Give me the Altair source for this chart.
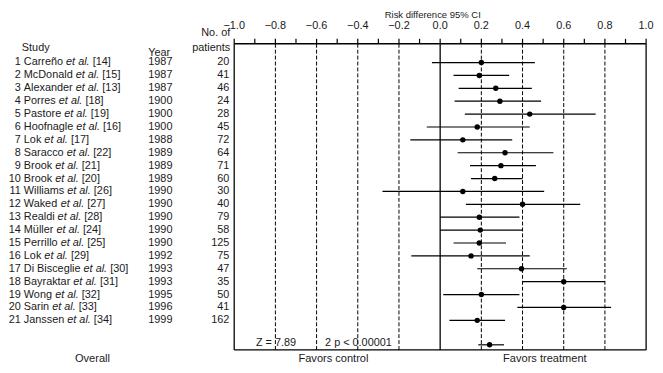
import altair as alt
import pandas as pd

# ---------------- data ----------------
study_num = list(range(1, 22))
authors = ["Carreño", "McDonald", "Alexander", "Porres", "Pastore", "Hoofnagle", "Lok",
           "Saracco", "Brook", "Brook", "Williams", "Waked", "Realdi", "Müller", "Perrillo",
           "Lok", "Di Bisceglie", "Bayraktar", "Wong", "Sarin", "Janssen"]
refs = ["[14]", "[15]", "[13]", "[18]", "[19]", "[16]", "[17]", "[22]", "[21]", "[20]", "[26]",
        "[27]", "[28]", "[24]", "[25]", "[29]", "[30]", "[31]", "[32]", "[33]", "[34]"]
years = [1987, 1987, 1987, 1900, 1900, 1900, 1988, 1989, 1989, 1989, 1990, 1990, 1990, 1990,
         1990, 1992, 1993, 1993, 1995, 1996, 1999]
patients = [20, 41, 46, 24, 28, 45, 72, 64, 71, 60, 30, 40, 79, 58, 125, 75, 47, 35, 50, 41, 162]
rd = [0.20, 0.19, 0.27, 0.29, 0.435, 0.18, 0.11, 0.315, 0.295, 0.265, 0.11, 0.40, 0.19, 0.195,
      0.19, 0.15, 0.395, 0.60, 0.20, 0.60, 0.18]
ci_lo = [-0.04, 0.065, 0.09, 0.07, 0.12, -0.065, -0.145, 0.085, 0.145, 0.15, -0.28, 0.125, 0.0,
         0.0, 0.065, -0.14, 0.18, 0.40, 0.015, 0.375, 0.045]
ci_hi = [0.46, 0.335, 0.445, 0.49, 0.755, 0.435, 0.35, 0.55, 0.465, 0.40, 0.505, 0.68, 0.385,
         0.40, 0.32, 0.435, 0.615, 0.80, 0.385, 0.83, 0.315]
overall_rd = [0.24]
overall_lo = [0.185]
overall_hi = [0.31]
overall_row = [22.9]

major_ticks = [-1.0, -0.8, -0.6, -0.4, -0.2, 0.0, 0.2, 0.4, 0.6, 0.8, 1.0]
minor_ticks = [-0.9, -0.7, -0.5, -0.3, -0.1, 0.1, 0.3, 0.5, 0.7, 0.9]
dashed_lines = [-0.8, -0.6, -0.4, -0.2, 0.2, 0.4, 0.6, 0.8]
solid_lines = [-1.0, 0.0, 1.0]
frame_rows = [-0.456, 23.3]

# ---------------- layout helpers ----------------
FONT = "Liberation Sans, Arial, Helvetica, sans-serif"
FS = 11
W, H = 417, 310
CW = {' ': 278, '.': 278, '[': 278, ']': 278, 'A': 667, 'B': 667, 'C': 722, 'D': 722, 'H': 722,
      'J': 500, 'L': 556, 'M': 833, 'P': 667, 'R': 722, 'S': 667, 'W': 944, 'c': 500, 'f': 278,
      'i': 222, 'j': 222, 'k': 500, 'l': 222, 'm': 833, 'r': 333, 's': 500, 't': 278, 'v': 500,
      'w': 722, 'x': 500, 'y': 500, 'z': 500}


def tw(s):
    return sum(CW.get(c, 556) for c in s) * FS / 1000.0


X = alt.Scale(domain=[-1, 1], nice=False, zero=False)
Y = alt.Scale(domain=frame_rows, reverse=True, nice=False, zero=False)
BLACK = "#000000"
TXT = "#1a1a1a"

name_x = -213
rows = pd.DataFrame({
    "row": study_num, "num": study_num, "author": authors, "ref": refs,
    "year": [str(y) for y in years], "n": patients, "rd": rd, "lo": ci_lo, "hi": ci_hi,
})
rows["etal_x"] = [name_x + tw(a + " ") for a in authors]
rows["ref_x"] = [name_x + tw(a + " et al. ") for a in authors]

ov = pd.DataFrame({"row": overall_row, "rd": overall_rd, "lo": overall_lo, "hi": overall_hi})

base_rows = alt.Chart(rows)
yrow = alt.Y("row:Q", scale=Y, axis=None)

# grid lines
dashed = alt.Chart(pd.DataFrame({"v": dashed_lines})).mark_rule(
    color=BLACK, strokeWidth=1, strokeDash=[4, 2]).encode(
    x=alt.X("v:Q", scale=X, axis=None), y=alt.value(0), y2=alt.value(H))
solid = alt.Chart(pd.DataFrame({"v": solid_lines})).mark_rule(
    color=BLACK, strokeWidth=1.3).encode(
    x=alt.X("v:Q", scale=X, axis=None), y=alt.value(0), y2=alt.value(H))
frame_h = alt.Chart(pd.DataFrame({"row": frame_rows})).mark_rule(
    color=BLACK, strokeWidth=1.3).encode(
    y=yrow, x=alt.value(0), x2=alt.value(W))
ticks = alt.Chart(pd.DataFrame({"v": major_ticks + minor_ticks})).mark_rule(
    color=BLACK, strokeWidth=1.2).encode(
    x=alt.X("v:Q", scale=X, axis=None), y=alt.value(-5), y2=alt.value(0))
tick_labels = alt.Chart(pd.DataFrame({"v": major_ticks})).mark_text(
    font=FONT, fontSize=FS, color=TXT, baseline="alphabetic", align="center").encode(
    x=alt.X("v:Q", scale=X, axis=None), y=alt.value(-14.5),
    text=alt.Text("v:Q", format=".1f"))
title = alt.Chart(pd.DataFrame({"t": ["Risk difference 95% CI"]})).mark_text(
    font=FONT, fontSize=9.6, color=TXT, baseline="alphabetic", align="center").encode(
    x=alt.value(201), y=alt.value(-26.5), text="t:N")

# estimates
ci = base_rows.mark_rule(color=BLACK, strokeWidth=1.2).encode(
    x=alt.X("lo:Q", scale=X, axis=None), x2="hi:Q", y=yrow)
pts = base_rows.mark_circle(color=BLACK, opacity=1, size=30).encode(
    x=alt.X("rd:Q", scale=X, axis=None), y=yrow)
ov_ci = alt.Chart(ov).mark_rule(color=BLACK, strokeWidth=1.2).encode(
    x=alt.X("lo:Q", scale=X, axis=None), x2="hi:Q", y=yrow)
ov_pt = alt.Chart(ov).mark_circle(color=BLACK, opacity=1, size=30).encode(
    x=alt.X("rd:Q", scale=X, axis=None), y=yrow)


def txt(**kw):
    d = dict(font=FONT, fontSize=FS, color=TXT, baseline="middle")
    d.update(kw)
    return d


# table
t_num = base_rows.mark_text(**txt(align="right")).encode(
    x=alt.value(-216), y=yrow, text="num:N")
t_author = base_rows.mark_text(**txt(align="left")).encode(
    x=alt.value(name_x), y=yrow, text="author:N")
t_etal = base_rows.mark_text(**txt(align="left", fontStyle="italic")).encode(
    x=alt.X("etal_x:Q", scale=None), y=yrow, text=alt.value("et al."))
t_ref = base_rows.mark_text(**txt(align="left")).encode(
    x=alt.X("ref_x:Q", scale=None), y=yrow, text="ref:N")
t_year = base_rows.mark_text(**txt(align="left")).encode(
    x=alt.value(-87), y=yrow, text="year:N")
t_n = base_rows.mark_text(**txt(align="right")).encode(
    x=alt.value(-5), y=yrow, text="n:Q")

headers = pd.DataFrame({
    "t": ["Study", "Year", "No. of", "patients"],
    "x": [-215, -87, -4, -4],
    "y": [7.5, 12, -7.5, 7],
    "a": ["left", "left", "right", "right"],
})
h_layers = []
for _, r in headers.iterrows():
    h_layers.append(alt.Chart(pd.DataFrame({"t": [r["t"]]})).mark_text(
        font=FONT, fontSize=FS, color=TXT, baseline="alphabetic", align=r["a"]).encode(
        x=alt.value(float(r["x"])), y=alt.value(float(r["y"])), text="t:N"))

stats = alt.Chart(pd.DataFrame({"row": [22.75, 22.75], "t": ["Z = 7.89", "2 p < 0.00001"],
                                "px": [22, 92]})).mark_text(**txt(align="left")).encode(
    x=alt.X("px:Q", scale=None), y=yrow, text="t:N")

footer = alt.Chart(pd.DataFrame({"t": ["Overall", "Favors control", "Favors treatment"],
                                 "px": [-143.5, 100.5, 314.5]})).mark_text(
    font=FONT, fontSize=11.2, color=TXT, baseline="alphabetic", align="center").encode(
    x=alt.X("px:Q", scale=None), y=alt.value(322), text="t:N")

chart = alt.layer(
    dashed, solid, frame_h, ticks, tick_labels, title,
    ci, pts, ov_ci, ov_pt,
    t_num, t_author, t_etal, t_ref, t_year, t_n, *h_layers, stats, footer,
).properties(
    width=W, height=H,
    padding={"left": 229, "top": 34, "right": 9, "bottom": 13},
    autosize=alt.AutoSizeParams(type="none"),
    background="white",
).configure_view(stroke=None)

chart.save("out.html", embed_options={"renderer": "svg", "actions": False})
